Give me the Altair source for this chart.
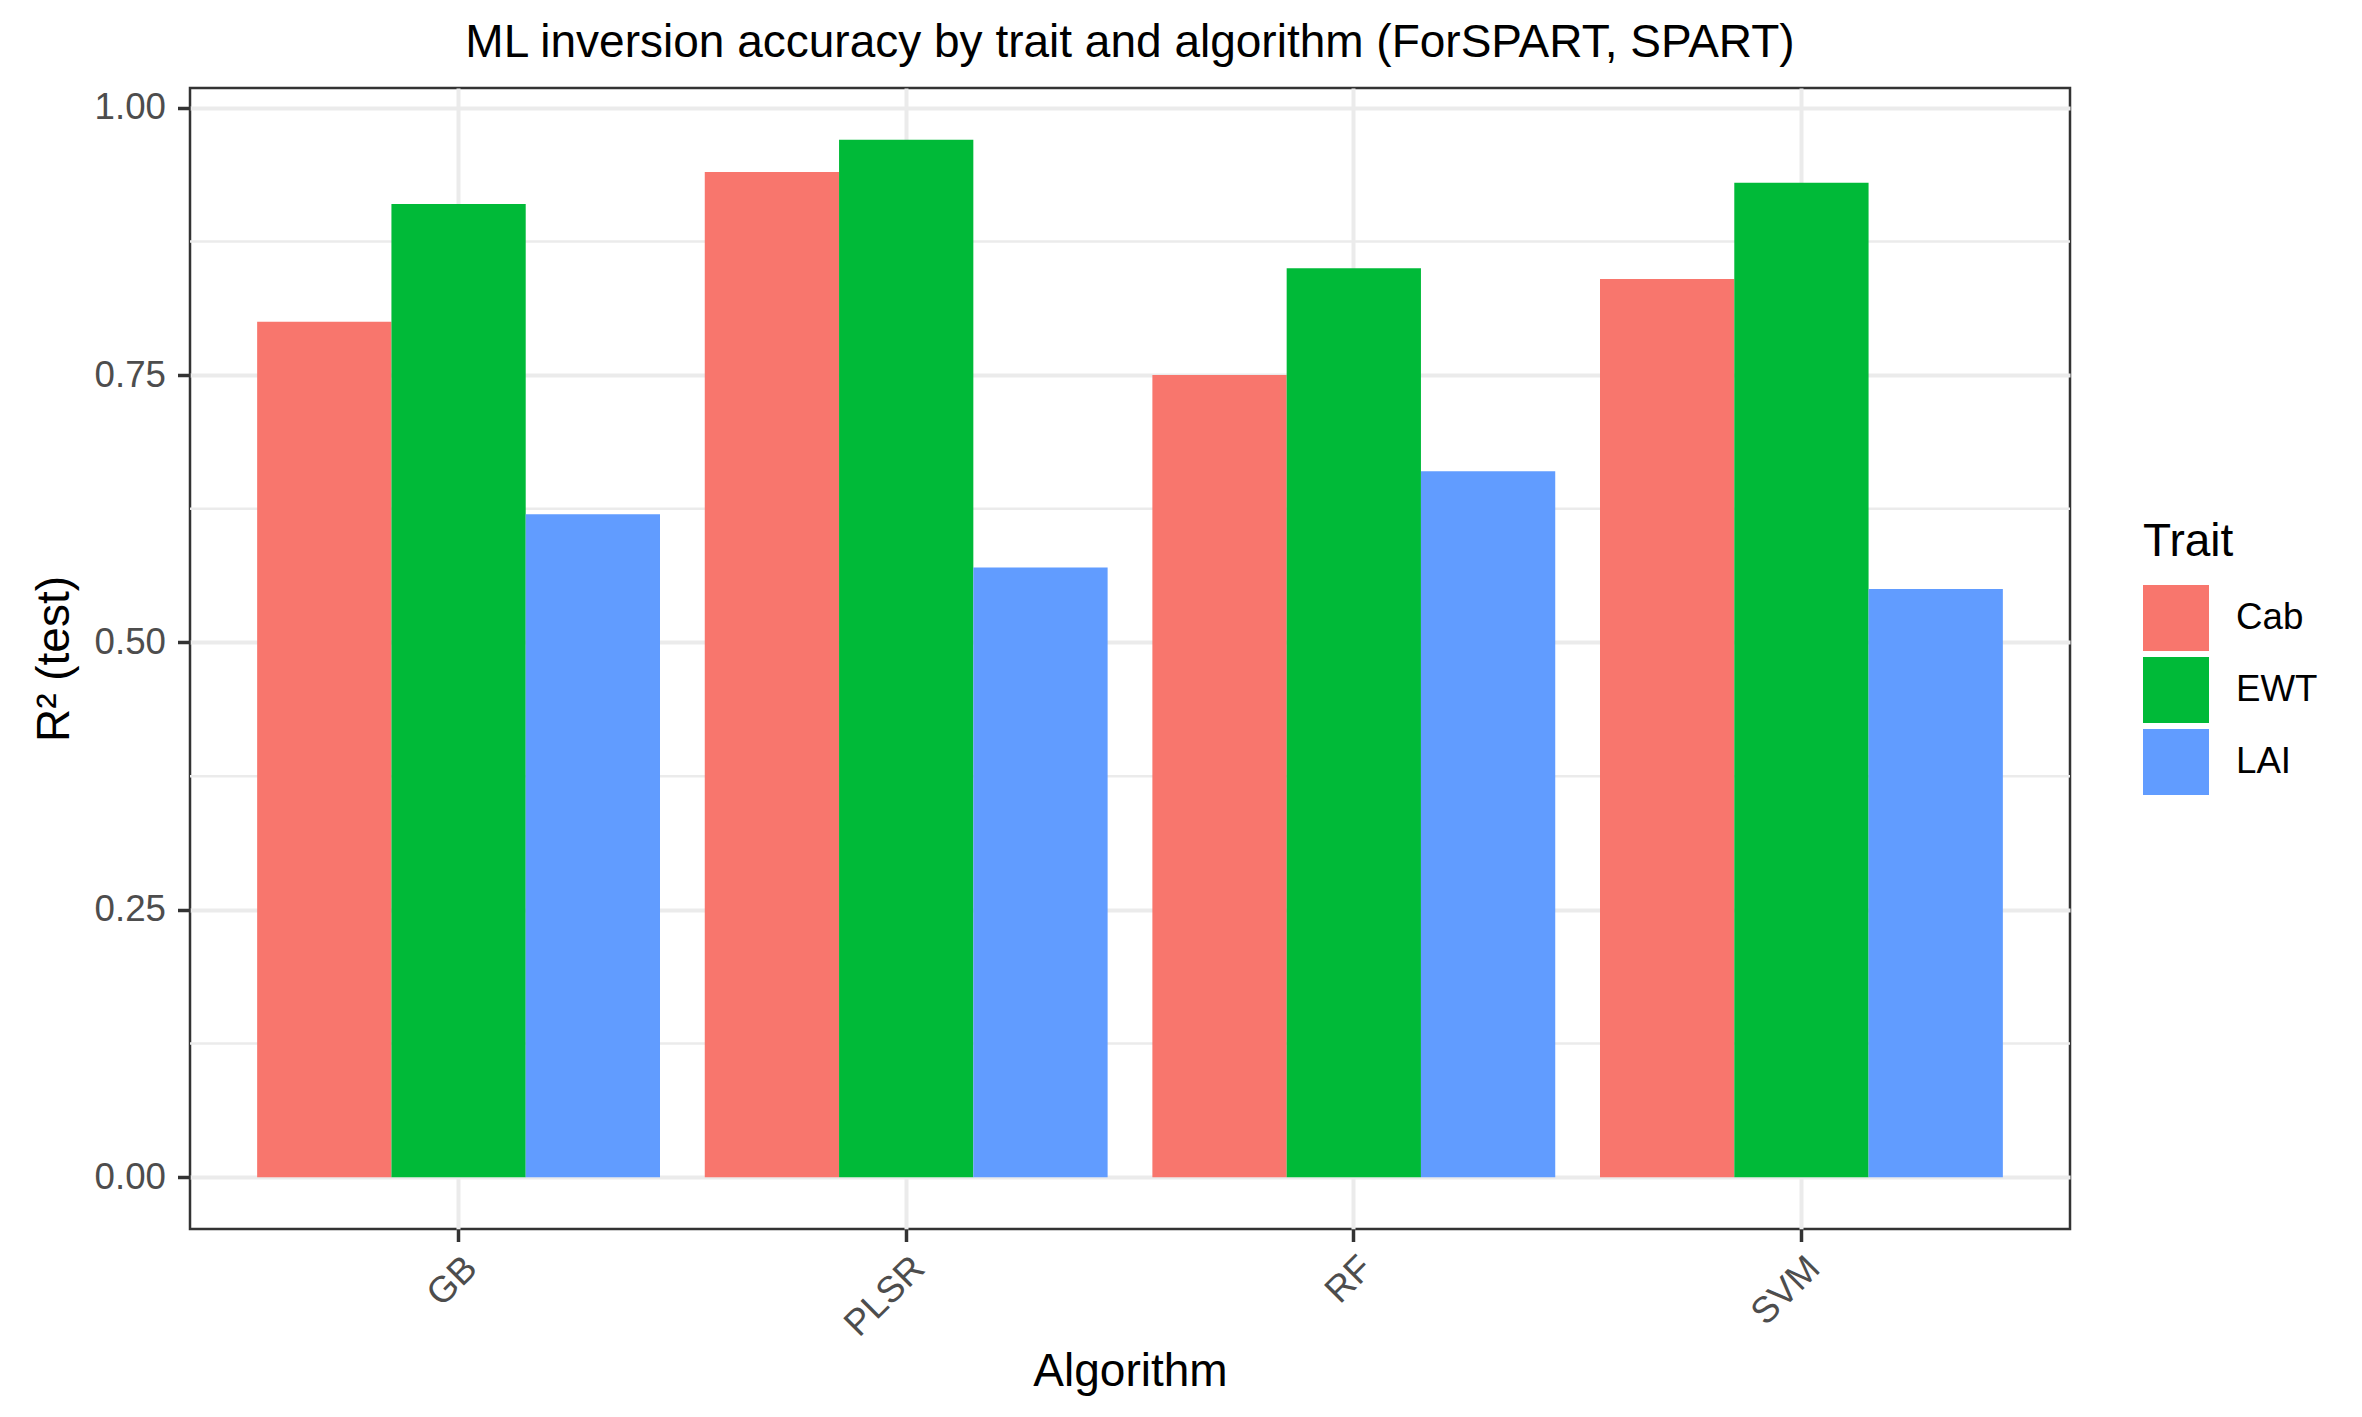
import altair as alt
import pandas as pd

# ---- data ----
algorithms = ["GB", "PLSR", "RF", "SVM"]
traits = ["Cab", "EWT", "LAI"]
cab = [0.80, 0.94, 0.75, 0.84]
ewt = [0.91, 0.97, 0.85, 0.93]
lai = [0.62, 0.57, 0.66, 0.55]
y_breaks = [0.0, 0.25, 0.50, 0.75, 1.00]
y_minor = [0.125, 0.375, 0.625, 0.875]
trait_colors = ["#F8766D", "#00BA38", "#619CFF"]

rows = []
for series, name in zip([cab, ewt, lai], traits):
    for alg, v in zip(algorithms, series):
        rows.append({"Algorithm": alg, "Trait": name, "R2": v})
df = pd.DataFrame(rows)
minor_df = pd.DataFrame({"R2": y_minor})

FONT = "Liberation Sans"

y_enc = alt.Y(
    "R2:Q",
    scale=alt.Scale(domain=[-0.0485, 1.0185], nice=False, zero=False),
    axis=alt.Axis(
        title="R² (test)",
        values=y_breaks,
        format=".2f",
        domain=False,
        grid=True,
        gridColor="#EBEBEB",
        gridWidth=4,
        ticks=True,
        tickSize=12.5,
        tickWidth=3.5,
        tickColor="#333333",
        labelFont=FONT,
        labelFontSize=36.7,
        labelColor="#4D4D4D",
        labelPadding=12,
        titleFont=FONT,
        titleFontSize=46,
        titleFontWeight="normal",
        titleColor="black",
        titleBaseline="alphabetic",
        titleX=-122,
    ),
)

minor = alt.Chart(minor_df).mark_rule(color="#EBEBEB", strokeWidth=2.5).encode(y=y_enc)

bars = alt.Chart(df).mark_bar().encode(
    x=alt.X(
        "Algorithm:N",
        sort=algorithms,
        scale=alt.Scale(paddingInner=0.1, paddingOuter=0.15),
        axis=alt.Axis(
            title="Algorithm",
            labelAngle=-45,
            labelAlign="right",
            labelBaseline="top",
            domain=False,
            grid=True,
            gridColor="#EBEBEB",
            gridWidth=4,
            bandPosition=0.5,
            tickSize=12.5,
            tickWidth=3.5,
            tickColor="#333333",
            labelFont=FONT,
            labelFontSize=36.7,
            labelColor="#4D4D4D",
            labelPadding=8,
            titleFont=FONT,
            titleFontSize=46,
            titleFontWeight="normal",
            titleColor="black",
            titleBaseline="alphabetic",
            titleY=156,
        ),
    ),
    xOffset=alt.XOffset("Trait:N", sort=traits),
    y=y_enc,
    y2=alt.datum(0),
    color=alt.Color(
        "Trait:N",
        sort=traits,
        scale=alt.Scale(domain=traits, range=trait_colors),
        legend=alt.Legend(
            title="Trait",
            orient="none",
            legendX=1953,
            legendY=432,
            padding=0,
            titleFont=FONT,
            titleFontSize=46,
            titleFontWeight="normal",
            titleColor="black",
            titlePadding=19,
            labelFont=FONT,
            labelFontSize=36.7,
            labelColor="black",
            labelOffset=27,
            symbolType="square",
            symbolSize=4356,
            symbolStrokeWidth=0,
            symbolOpacity=1,
            rowPadding=6,
        ),
    ),
)

chart = (
    alt.layer(minor, bars)
    .properties(
        width=1880,
        height=1141,
        title=alt.TitleParams(
            "ML inversion accuracy by trait and algorithm (ForSPART, SPART)",
            font=FONT,
            fontSize=46,
            fontWeight="normal",
            color="black",
            anchor="middle",
            frame="group",
            baseline="alphabetic",
            offset=-15,
        ),
        padding={"left": 182, "top": 80, "right": 284, "bottom": 176},
        autosize=alt.AutoSizeParams(type="none"),
    )
    .configure(background="white")
    .configure_view(stroke="#333333", strokeWidth=2.5)
)

chart.save("out.html", embed_options={"renderer": "svg", "actions": False})
